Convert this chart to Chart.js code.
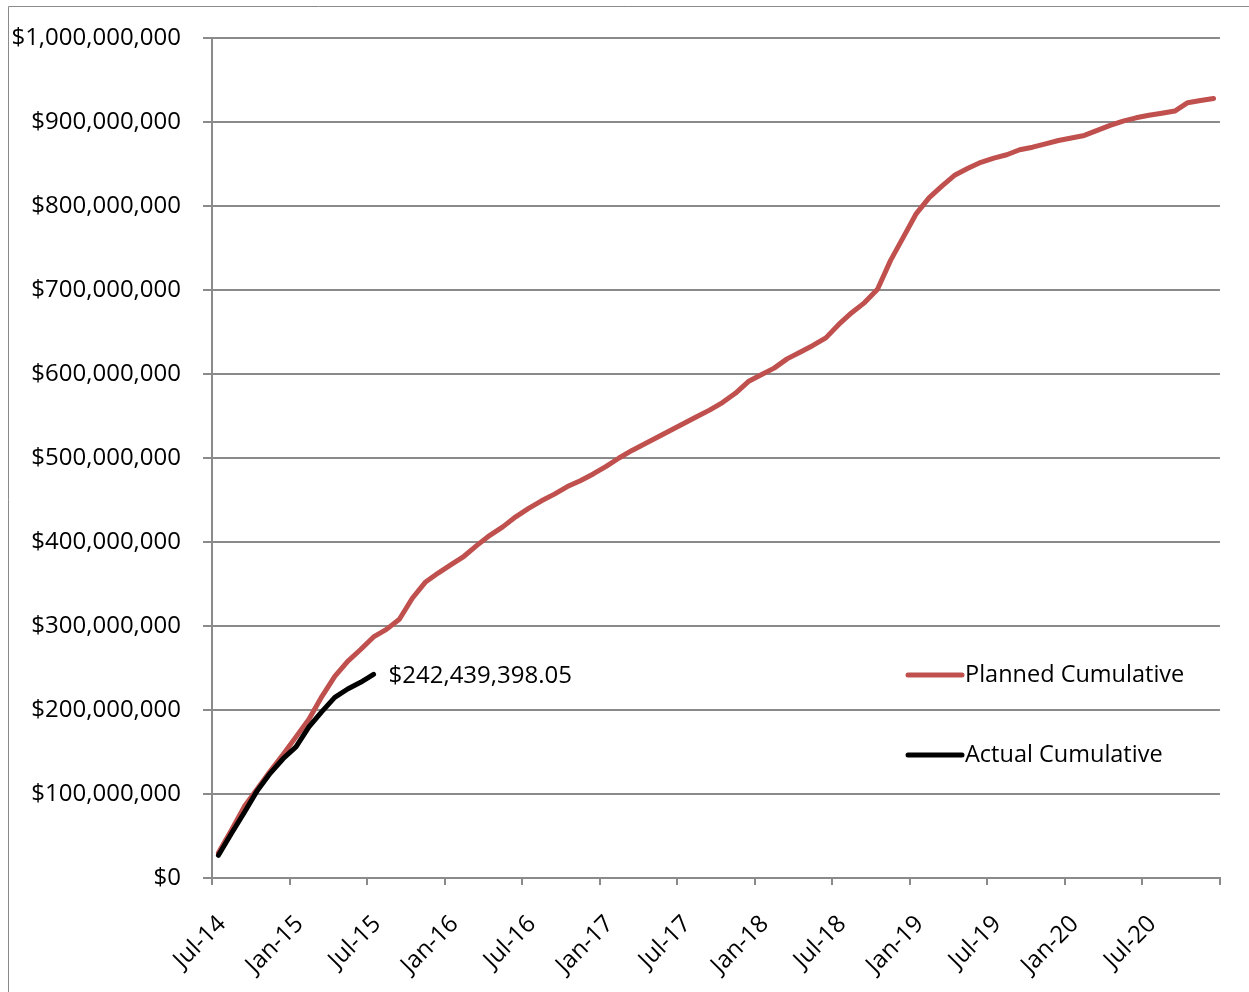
<!DOCTYPE html>
<html><head><meta charset="utf-8">
<script src="https://cdn.jsdelivr.net/npm/chart.js@4.4.1/dist/chart.umd.min.js"></script>
<style>html,body{margin:0;padding:0;background:#fff;overflow:hidden}
#wrap{position:relative;width:1249px;height:992px}</style></head>
<body><div id="wrap"><canvas id="c" width="1249" height="992"></canvas></div>
<script>
// Month categories (one point per month, plotted mid-month)
const monthLabels = [
 'Jul-14','Aug-14','Sep-14','Oct-14','Nov-14','Dec-14',
 'Jan-15','Feb-15','Mar-15','Apr-15','May-15','Jun-15','Jul-15','Aug-15','Sep-15','Oct-15','Nov-15','Dec-15',
 'Jan-16','Feb-16','Mar-16','Apr-16','May-16','Jun-16','Jul-16','Aug-16','Sep-16','Oct-16','Nov-16','Dec-16',
 'Jan-17','Feb-17','Mar-17','Apr-17','May-17','Jun-17','Jul-17','Aug-17','Sep-17','Oct-17','Nov-17','Dec-17',
 'Jan-18','Feb-18','Mar-18','Apr-18','May-18','Jun-18','Jul-18','Aug-18','Sep-18','Oct-18','Nov-18','Dec-18',
 'Jan-19','Feb-19','Mar-19','Apr-19','May-19','Jun-19','Jul-19','Aug-19','Sep-19','Oct-19','Nov-19','Dec-19',
 'Jan-20','Feb-20','Mar-20','Apr-20','May-20','Jun-20','Jul-20','Aug-20','Sep-20','Oct-20','Nov-20','Dec-20'
];
// Planned cumulative, $ millions
const plannedM = [
 30, 57, 85, 106, 127, 147,
 168, 189, 216, 240, 258, 272, 287, 296, 308, 333, 352, 363,
 373, 383, 396, 408, 418, 430, 440, 449, 457, 466, 473, 481,
 490, 500, 509, 517, 525, 533, 541, 549, 557, 566, 577, 591,
 599, 607, 618, 626, 634, 643, 659, 673, 685, 701, 735, 763,
 791, 810, 824, 837, 845, 852, 857, 861, 867, 870, 874, 878,
 881, 884, 890, 896, 901, 905, 908, 910.5, 913, 923, 925.5, 928
];
// Actual cumulative, $ millions
const actualM = [27, 53, 78, 104, 124.6, 142, 156, 180, 198, 215, 225, 233, 242.43939805];
const seriesNames = ['Planned Cumulative', 'Actual Cumulative'];
const yTickStep = 100000000;

const FONT = '"Open Sans", Lato, sans-serif';
Chart.defaults.font.family = FONT;
Chart.defaults.font.size = 24;
Chart.defaults.color = '#000';

const GRID = '#8a8a8a';

const fmtMoney = (v, dec) => '$' + v.toLocaleString('en-US', {minimumFractionDigits: dec, maximumFractionDigits: dec});

const extras = {
  id: 'extras',
  beforeDraw(chart) {
    const ctx = chart.ctx;
    ctx.save();
    ctx.fillStyle = '#fff';
    ctx.fillRect(0, 0, chart.width, chart.height);
    ctx.strokeStyle = GRID;
    ctx.lineWidth = 1;
    ctx.beginPath();
    ctx.moveTo(8.5, chart.height);
    ctx.lineTo(8.5, 6.5);
    ctx.lineTo(chart.width, 6.5);
    ctx.stroke();
    ctx.restore();
  },
  afterDatasetsDraw(chart) {
    const ctx = chart.ctx;
    const ca = chart.chartArea;
    ctx.save();
    ctx.font = '24px ' + FONT;
    ctx.fillStyle = '#000';
    ctx.textBaseline = 'middle';
    ctx.textAlign = 'left';
    // data label at the last actual point
    const actMeta = chart.getDatasetMeta(1);
    const lastPt = actMeta.data[actMeta.data.length - 1];
    const lastVal = chart.data.datasets[1].data[chart.data.datasets[1].data.length - 1].y;
    ctx.fillText(fmtMoney(lastVal, 2), lastPt.x + 15, lastPt.y + 2);
    // legend
    const lx = ca.right - 312;
    const lys = [ca.top + 637, ca.top + 717];
    ctx.font = '23.5px ' + FONT;
    [0, 1].forEach((di, k) => {
      const ds = chart.data.datasets[di];
      ctx.strokeStyle = ds.borderColor;
      ctx.lineWidth = 5;
      ctx.lineCap = 'round';
      ctx.beginPath();
      ctx.moveTo(lx, lys[k]);
      ctx.lineTo(lx + 54, lys[k]);
      ctx.stroke();
      ctx.fillText(ds.label, lx + 57, lys[k]);
    });
    ctx.restore();
  }
};

new Chart(document.getElementById('c'), {
  type: 'line',
  data: {
    datasets: [
      {
        label: seriesNames[0],
        data: plannedM.map((v, i) => ({x: i + 0.5, y: v * 1e6})),
        borderColor: '#C0504D', borderWidth: 5, pointRadius: 0, tension: 0,
        borderCapStyle: 'round', borderJoinStyle: 'round', order: 1
      },
      {
        label: seriesNames[1],
        data: actualM.map((v, i) => ({x: i + 0.5, y: v * 1e6})),
        borderColor: '#000000', borderWidth: 5, pointRadius: 0, tension: 0,
        borderCapStyle: 'round', borderJoinStyle: 'round', order: 0
      }
    ]
  },
  options: {
    responsive: false, animation: false, devicePixelRatio: 1,
    layout: {padding: {top: 38, right: 29, left: 0, bottom: 0}},
    plugins: {legend: {display: false}, tooltip: {enabled: false}},
    scales: {
      x: {
        type: 'linear', min: 0, max: monthLabels.length,
        afterFit(s) { s.height = 114; s.paddingLeft = 0; s.paddingRight = 0; },
        grid: {display: true, drawOnChartArea: false, drawTicks: true, tickLength: 7, color: GRID, lineWidth: 2},
        border: {display: true, color: GRID, width: 2},
        ticks: {
          stepSize: 6, autoSkip: false, maxRotation: 45, minRotation: 45, padding: 25, labelOffset: 10,
          callback: (v) => monthLabels[v] !== undefined ? monthLabels[v] : ''
        }
      },
      y: {
        min: 0, max: 1000000000,
        afterFit(s) { s.width = 212; s.paddingTop = 0; s.paddingBottom = 0; },
        grid: {color: GRID, lineWidth: 2, tickLength: 9, drawTicks: true},
        border: {display: true, color: GRID, width: 2},
        ticks: {stepSize: yTickStep, padding: 22, callback: (v) => fmtMoney(v, 0)}
      }
    }
  },
  plugins: [extras]
});
</script></body></html>
